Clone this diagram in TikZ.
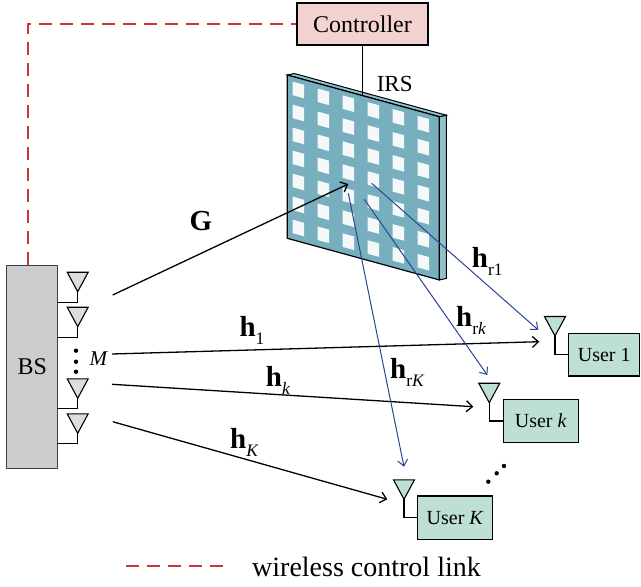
\documentclass[tikz,border=0pt]{standalone}
\usepackage{fontspec}
\setmainfont{Liberation Serif}
\usetikzlibrary{arrows.meta}
\definecolor{ctrlpink}{RGB}{242,211,209}
\definecolor{bsgray}{RGB}{204,204,204}
\definecolor{antgray}{RGB}{221,221,221}
\definecolor{usergreen}{RGB}{190,224,212}
\definecolor{irsteal}{RGB}{120,175,190}
\definecolor{irsside}{RGB}{142,195,206}
\definecolor{irscell}{RGB}{245,248,248}
\definecolor{linkred}{RGB}{200,55,60}
\definecolor{chanblue}{RGB}{40,70,150}
\tikzstyle{box} = [draw, line width=1.2pt, inner sep=0pt]
\tikzstyle{link} = [line width=1.3pt, -{Straight Barb[length=6pt,width=11pt]}]
\tikzstyle{rlink} = [chanblue, line width=1pt, -{Straight Barb[length=6pt,width=10pt]}]
\tikzstyle{ctrllink} = [linkred, line width=1.7pt, dash pattern=on 13pt off 8pt]
\tikzstyle{lab} = [anchor=base west, inner sep=0pt, font=\fontsize{29}{29}\selectfont]
\newcommand{\chan}[1]{\textbf{h}\raisebox{-8pt}{\fontsize{17.5}{17.5}\selectfont #1}}
\tikzset{antenna/.pic={\draw[fill=#1, line width=1.1pt] (0,0) -- (-10.5,-19.5) -- (10.5,-19.5) -- cycle;}}

\begin{document}
\begin{tikzpicture}[x=1pt, y=-1pt]
        \useasboundingbox (0,0) rectangle (641,587);
        % IRS panel
        \begin{scope}[shift={(287.3,75)}, yslant=-0.274]
            \filldraw[fill=irsside, line width=1pt] (152,0) -- (159,-3.4) -- (159,159.9) -- (152,163.3) -- cycle;
            \filldraw[fill=irsside, line width=1pt] (0,0) -- (7,-3.4) -- (159,-3.4) -- (152,0) -- cycle;
            \filldraw[fill=irsteal, line width=1.2pt] (0,0) rectangle (152,163.3);
            \foreach \c in {0,...,5}
                \foreach \r in {0,...,6}
                    \fill[irscell] (5.4+25*\c, 5.2+23*\r) rectangle ++(11.5,13.5);
            \coordinate (irstop) at (75.2,0);
        \end{scope}
        \node at (394.7,83.5) {\fontsize{23}{23}\selectfont IRS};
        % controller
        \node (ctrl) [box, line width=1.7pt, fill=ctrlpink, minimum width=131, minimum height=42,
            font=\fontsize{24}{24}\selectfont] at (362.5,24) {Controller};
        \draw[line width=1.2pt] (ctrl.south) -- (irstop);
        % BS with antennas
        \node (bs) [box, draw={rgb,255:red,60;green,65;blue,80}, line width=1pt, fill=bsgray,
            minimum width=51, minimum height=202.6, font=\fontsize{24}{24}\selectfont] at (32.2,367) {BS};
        \foreach \y [count=\i] in {291.7,326.7,398.3,433.3} {
            \coordinate (b\i) at (77.7,\y);
            \pic at (b\i) {antenna=antgray};
            \draw[line width=1.1pt] (b\i) -- ++(0,10.5) -- ++(-20,0);
        }
        \foreach \y in {350.7,361.7,371.7}
            \fill (76,\y) circle (2.2);
        \node at (98.3,358.3) {\fontsize{21}{21}\selectfont\itshape M};
        \draw[ctrllink] ([xshift=-4]bs.north) |- (ctrl.west);
        % users
        \node (user1) [box, fill=usergreen, minimum width=71, minimum height=42.7,
            font=\fontsize{20}{20}\selectfont] at (604.2,354.7) {User 1};
        \node (userk) [box, fill=usergreen, minimum width=75, minimum height=43.4,
            font=\fontsize{20}{20}\selectfont] at (540.8,421) {User \textit{k}};
        \node (userK) [box, fill=usergreen, minimum width=75, minimum height=43.3,
            font=\fontsize{20}{20}\selectfont] at (455.2,517.7) {User \textit{K}};
        \coordinate (u1) at (555,336);
        \coordinate (uk) at (489.3,402.7);
        \coordinate (uK) at (404,499.3);
        \foreach \u/\b in {u1/user1, uk/userk, uK/userK} {
            \pic at (\u) {antenna=usergreen};
            \draw[line width=1.1pt] (\u) |- (\b.west);
        }
        \foreach \p in {(488.3,481.7), (496.7,473.3), (504,466)}
            \fill \p circle (2.2);
        % channels
        \coordinate (gsrc) at (112.7,295);
        \coordinate (gdst) at (348.3,184);
        \coordinate (d1src) at (112,354);
        \coordinate (d1dst) at (539.3,341.7);
        \coordinate (dksrc) at (112,384.3);
        \coordinate (dkdst) at (473.3,406.7);
        \coordinate (dKsrc) at (112.7,421.7);
        \coordinate (dKdst) at (387.3,499.3);
        \coordinate (r1src) at (371.7,183.3);
        \coordinate (r1dst) at (538.3,330);
        \coordinate (rksrc) at (364.3,199.3);
        \coordinate (rkdst) at (487.3,375);
        \coordinate (rKsrc) at (348.3,193.3);
        \coordinate (rKdst) at (404,466.7);
        \draw[link] (gsrc) -- (gdst);
        \draw[link] (d1src) -- (d1dst);
        \draw[link] (dksrc) -- (dkdst);
        \draw[link] (dKsrc) -- (dKdst);
        \draw[rlink] (r1src) -- (r1dst);
        \draw[rlink] (rksrc) -- (rkdst);
        \draw[rlink] (rKsrc) -- (rKdst);
        \node [lab] at (189.3,230) {\textbf{G}};
        \node [lab] at (239.3,336.7) {\chan{1}};
        \node [lab] at (265.7,386.7) {\chan{\textit{k}}};
        \node [lab] at (230,448.3) {\chan{\textit{K}}};
        \node [lab] at (471.7,267.3) {\chan{r1}};
        \node [lab] at (456,326.7) {\chan{r\textit{k}}};
        \node [lab] at (390,378.3) {\chan{r\textit{K}}};
        % legend
        \coordinate (lega) at (126,566);
        \coordinate (legb) at (225,566);
        \draw[ctrllink] (lega) -- (legb);
        \node [anchor=base west, inner sep=0pt, font=\fontsize{28}{28}\selectfont] at (252,576) {wireless control link};
    \end{tikzpicture}
\end{document}
